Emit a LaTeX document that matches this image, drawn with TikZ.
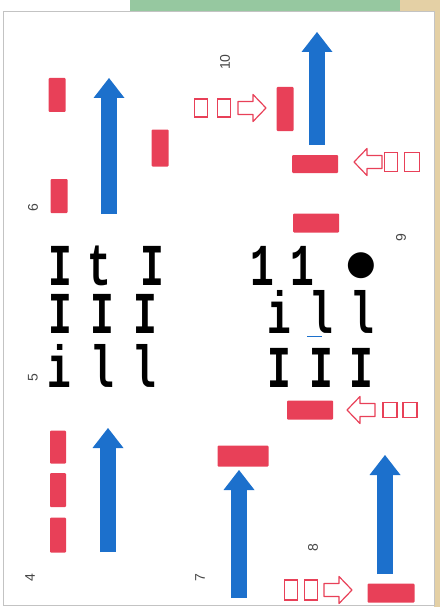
\documentclass[tikz,border=0pt]{standalone}
\usepackage{fontspec}
\setmonofont{Liberation Mono}
\newfontfamily\numfont{Liberation Sans}
\usetikzlibrary{arrows.meta}
\definecolor{barred}{RGB}{232,64,88}
\definecolor{arrowblue}{RGB}{28,112,204}
\definecolor{framegray}{RGB}{195,195,195}
\definecolor{numgray}{RGB}{70,70,70}
\definecolor{stripgreen}{RGB}{150,200,160}
\definecolor{striptan}{RGB}{228,208,165}
\newcommand\tall[1]{\scalebox{0.9}[1.35]{#1}}
\tikzset{
  redbar/.style={rectangle, fill=barred, inner sep=0pt, rounded corners=1pt},
  hbar/.style={redbar, minimum width=46pt, minimum height=19pt},
  vbar/.style={redbar, minimum width=17pt, minimum height=34pt},
  lane/.style={-{Triangle[length=20pt, width=31pt, line width=0pt]}, line width=16pt, color=arrowblue},
  box/.style={rectangle, draw=barred, line width=1.2pt, minimum width=13pt, minimum height=18pt, inner sep=0pt},
  glyph/.style={font=\ttfamily\bfseries\fontsize{44}{44}\selectfont, inner sep=0pt, anchor=base,
    text height=36pt, text depth=0pt},
  num/.style={font=\numfont\fontsize{14}{14}\selectfont, text=numgray, rotate=90, inner sep=0pt},
  hollow/.pic={\draw[barred, line width=1.2pt, line join=round]
    (0,-6.5) -- (15,-6.5) -- (15,-13.5) -- (28,0) -- (15,13.5) -- (15,6.5) -- (0,6.5) -- cycle;}
}
\begin{document}
\begin{tikzpicture}[x=1pt, y=-1pt]
  \useasboundingbox (0,0) rectangle (440,607);
  % page edge
  \fill[stripgreen] (130,0) rectangle (400,12);
  \fill[striptan] (400,0) rectangle (440,12);
  \fill[striptan] (434,12) rectangle (440,607);
  \draw[framegray, line width=1pt] (3,12) rectangle (434,605);

  % numbers
  \node[num] (n10) at (225,62) {10};
  \node[num] (n6) at (33,208) {6};
  \node[num] (n9) at (401,238) {9};
  \node[num] (n5) at (33,378) {5};
  \node[num] (n4) at (30,578) {4};
  \node[num] (n7) at (200,578) {7};
  \node[num] (n8) at (313,548) {8};

  % red bars
  \node[vbar] (a1) at (57,95) {};
  \node[vbar] (a2) at (59,196) {};
  \node[vbar, minimum height=37pt] (a3) at (160,148) {};
  \node[vbar, minimum height=44pt] (b1) at (285,109) {};
  \node[hbar, minimum height=18pt] (b2) at (315,164) {};
  \node[hbar] (b3) at (316,223) {};
  \node[vbar, minimum width=16pt, minimum height=33pt] (c1) at (58,447) {};
  \node[vbar, minimum width=16pt] (c2) at (58,490) {};
  \node[vbar, minimum width=16pt, minimum height=35pt] (c3) at (58,535) {};
  \node[hbar, minimum width=51pt, minimum height=21pt] (d1) at (243,456) {};
  \node[hbar] (e1) at (310,410) {};
  \node[hbar, minimum width=47pt] (e2) at (391,593) {};

  % blue lanes
  \coordinate (l1s) at (109,214); \coordinate (l1t) at (109,78);
  \coordinate (l2s) at (317,145); \coordinate (l2t) at (317,32);
  \coordinate (l3s) at (108,552); \coordinate (l3t) at (108,428);
  \coordinate (l4s) at (239,598); \coordinate (l4t) at (239,470);
  \coordinate (l5s) at (385,574); \coordinate (l5t) at (385,455);
  \draw[lane] (l1s) -- (l1t);
  \draw[lane] (l2s) -- (l2t);
  \draw[lane] (l3s) -- (l3t);
  \draw[lane] (l4s) -- (l4t);
  \draw[lane] (l5s) -- (l5t);

  % hollow arrows with boxes
  \node[box] (h1a) at (201,108) {};
  \node[box] (h1b) at (224,108) {};
  \pic (h1) at (238,108) {hollow};
  \pic[xscale=-1] (h2) at (382,162) {hollow};
  \node[box, minimum height=19pt] (h2a) at (391,162) {};
  \node[box, minimum width=15pt, minimum height=19pt] (h2b) at (412,162) {};
  \pic[xscale=-1] (h3) at (375,410) {hollow};
  \node[box, minimum width=14pt, minimum height=15pt] (h3a) at (390,410) {};
  \node[box, minimum width=14pt, minimum height=15pt] (h3b) at (410,410) {};
  \node[box, minimum height=20pt] (h4a) at (291,590) {};
  \node[box, minimum height=20pt] (h4b) at (311,590) {};
  \pic (h4) at (324,590) {hollow};

  % text rows
  \node[glyph] (t11) at (60,285) {\tall{I}};
  \node[glyph] (t12) at (99,285) {\tall{t}};
  \node[glyph] (t13) at (152,285) {\tall{I}};
  \node[glyph] (t21) at (60,333) {\tall{I}};
  \node[glyph] (t22) at (102,333) {\tall{I}};
  \node[glyph] (t23) at (145,333) {\tall{I}};
  \node[glyph] (t31) at (59,387) {\tall{i}};
  \node[glyph] (t32) at (102,387) {\tall{l}};
  \node[glyph] (t33) at (144,387) {\tall{l}};
  \node[glyph] (u11) at (262,285) {\tall{1}};
  \node[glyph] (u12) at (302,285) {\tall{1}};
  \node[font=\fontspec{DejaVu Sans}\fontsize{34}{34}\selectfont, inner sep=0pt] (u13) at (361,266) {●};
  \node[glyph] (u21) at (279,333) {\tall{i}};
  \node[glyph] (u22) at (321,333) {\tall{l}};
  \node[glyph] (u23) at (362,333) {\tall{l}};
  \node[glyph] (u31) at (279,387) {\tall{I}};
  \node[glyph] (u32) at (321,387) {\tall{I}};
  \node[glyph] (u33) at (361,387) {\tall{I}};
  \draw[arrowblue, line width=1pt] (307,336) -- (322,336);
\end{tikzpicture}
\end{document}
